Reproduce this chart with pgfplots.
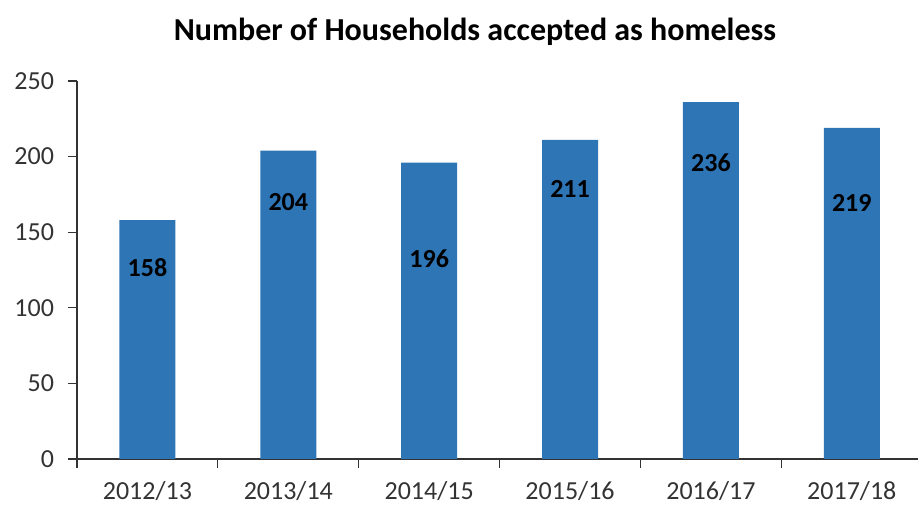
\documentclass[border=0pt]{standalone}
\usepackage{pgfplots}
\pgfplotsset{compat=1.18}
\usepackage{pgfplotstable}
\usepackage{fontspec}
\setmainfont{Carlito}
\definecolor{barblue}{HTML}{2E75B6}
\definecolor{axgray}{HTML}{333333}
\pgfplotstableread{
x y ly
0 158 126.3
1 204 170.0
2 196 132.3
3 211 178.6
4 236 195.8
5 219 169.3
}\data
\begin{document}
\begin{tikzpicture}
\useasboundingbox (-57.75pt,-34.5pt) rectangle (633.75pt,344.25pt);
\begin{axis}[
  at={(0pt,0pt)}, anchor=south west,
  scale only axis, width=630.75pt, height=283.5pt,
  xmin=-0.5, xmax=5.47, ymin=0, ymax=250,
  axis x line*=bottom, axis y line*=left,
  axis line style={-, draw=axgray, line width=0.9pt},
  ytick={0,50,...,250},
  xtick={0,...,5},
  xticklabels={2012/13,2013/14,2014/15,2015/16,2016/17,2017/18},
  tick align=outside,
  major tick length=6.75pt,
  y tick style={draw=axgray, line width=0.9pt},
  x tick style={draw=none},
  extra x ticks={-0.5,0.5,1.5,2.5,3.5,4.5},
  extra x tick labels={},
  extra x tick style={x tick style={draw=axgray, line width=0.9pt}},
  /pgf/number format/assume math mode=true,
  ticklabel style={font=\fontsize{19.5}{23}\selectfont, text=axgray},
  yticklabel style={xshift=-7pt},
  xticklabel style={inner sep=0.5pt, yshift=-9.5pt},
  clip=false,
]
\addplot[ybar, bar width=42pt, fill=barblue, draw=none] table[x=x, y=y]{\data};
\addplot[draw=none, mark=none, nodes near coords, point meta=explicit symbolic,
  nodes near coords style={anchor=center, text=black, font=\bfseries\fontsize{19.5}{23}\selectfont}]
  table[x=x, y=ly, meta=y]{\data};
\end{axis}
\node[font=\bfseries\fontsize{24}{28}\selectfont, text=black] at (298.5pt,320.25pt) {Number of Households accepted as homeless};
\end{tikzpicture}
\end{document}
